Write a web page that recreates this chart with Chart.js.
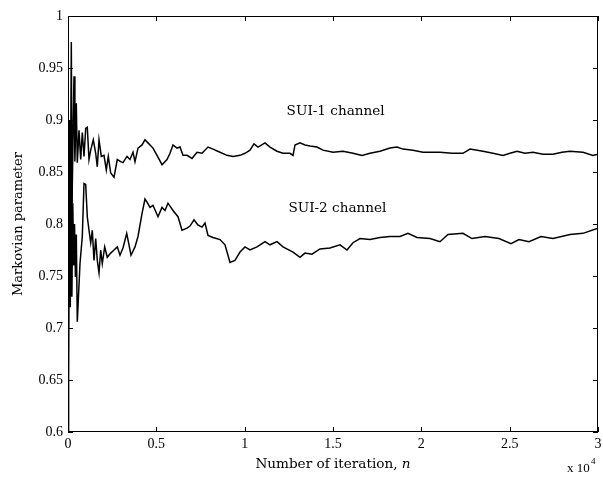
<!DOCTYPE html>
<html>
<head>
<meta charset="utf-8">
<script src="https://cdn.jsdelivr.net/npm/chart.js@4/dist/chart.umd.min.js"></script>
<style>
html,body{margin:0;padding:0;background:#fff;}
#wrap{width:603px;height:477px;}
</style>
</head>
<body>
<div id="wrap"><canvas id="c" width="603" height="477"></canvas></div>
<script>
// ---- data (iteration n, Markovian parameter) ----
const sui1N = [0,30,60,100,150,187,230,290,340,390,430,470,526,623,719,809,906,1002,1092,1189,1285,1432,1568,1658,1755,1885,2038,2168,2281,2417,2604,2790,2983,3113,3340,3509,3679,3792,3962,4189,4358,4528,4811,5038,5321,5604,5774,5943,6170,6340,6509,6736,7019,7302,7585,7925,8208,8604,9000,9340,9736,10019,10302,10528,10755,11151,11434,11830,12170,12566,12736,12849,13132,13415,13698,14094,14434,15000,15566,16132,16642,17094,17660,18226,18623,18962,19528,20094,20491,21055,21736,22357,22753,23489,24055,24621,25019,25413,25868,26319,26887,27451,27962,28413,29149,29715,30000];
const sui1V = [0.880,0.750,0.900,0.800,0.860,0.975,0.820,0.890,0.942,0.860,0.890,0.916,0.859,0.890,0.862,0.888,0.865,0.892,0.893,0.862,0.871,0.881,0.868,0.855,0.881,0.865,0.866,0.852,0.865,0.849,0.845,0.862,0.860,0.859,0.865,0.862,0.869,0.860,0.873,0.876,0.881,0.878,0.873,0.866,0.857,0.862,0.868,0.876,0.873,0.874,0.866,0.866,0.863,0.869,0.868,0.874,0.872,0.869,0.866,0.865,0.866,0.868,0.871,0.877,0.874,0.878,0.874,0.870,0.868,0.868,0.866,0.876,0.878,0.876,0.875,0.874,0.871,0.869,0.870,0.868,0.866,0.868,0.870,0.873,0.874,0.872,0.871,0.869,0.869,0.869,0.868,0.868,0.872,0.870,0.868,0.866,0.868,0.870,0.868,0.869,0.867,0.867,0.869,0.870,0.869,0.866,0.867];

const sui2N = [0,20,50,90,130,170,220,270,320,370,420,470,526,679,809,906,1002,1092,1189,1285,1375,1472,1568,1658,1755,1851,1941,2077,2224,2417,2604,2790,2943,3113,3323,3453,3566,3792,3962,4189,4358,4472,4642,4811,5094,5321,5491,5660,5943,6226,6453,6736,6906,7132,7358,7585,7755,7925,8208,8604,8887,9170,9453,9736,10019,10302,10698,11151,11434,11830,12170,12736,13132,13415,13811,14264,14830,15396,15792,16132,16528,17094,17660,18226,18792,19245,19755,20491,21055,21508,22357,22866,23602,24396,25075,25528,26094,26774,27453,28415,29151,30000];
const sui2V = [0.600,0.800,0.650,0.860,0.720,0.850,0.730,0.820,0.760,0.800,0.749,0.790,0.706,0.762,0.788,0.839,0.838,0.807,0.794,0.782,0.794,0.765,0.786,0.765,0.753,0.775,0.762,0.778,0.768,0.772,0.775,0.778,0.770,0.777,0.791,0.780,0.770,0.778,0.788,0.810,0.824,0.821,0.816,0.818,0.807,0.816,0.813,0.820,0.813,0.807,0.794,0.796,0.798,0.804,0.799,0.797,0.801,0.789,0.787,0.785,0.780,0.763,0.765,0.773,0.778,0.775,0.778,0.783,0.780,0.783,0.778,0.773,0.768,0.772,0.771,0.776,0.777,0.780,0.775,0.782,0.786,0.785,0.787,0.788,0.788,0.791,0.787,0.786,0.783,0.790,0.791,0.786,0.788,0.786,0.781,0.785,0.783,0.788,0.786,0.790,0.791,0.796];

const xTicks = [0,5000,10000,15000,20000,25000,30000];
const xTickLabels = ['0','0.5','1','1.5','2','2.5','3'];
const yTicks = [0.6,0.65,0.7,0.75,0.8,0.85,0.9,0.95,1];
const yTickLabels = ['0.6','0.65','0.7','0.75','0.8','0.85','0.9','0.95','1'];
const annotations = [
  {text:'SUI-1 channel', n:15150, v:0.908},
  {text:'SUI-2 channel', n:15250, v:0.815}
];

const NUMFONT = '"Liberation Serif", serif';
const WORDFONT = '"DejaVu Serif", serif';

function pts(ns, vs){ return ns.map((n,i)=>({x:n, y:vs[i]})); }

const framePlugin = {
  id:'frame',
  afterDraw(chart){
    const {ctx, chartArea:a, scales:{x, y}} = chart;
    ctx.save();
    ctx.strokeStyle = '#000';
    ctx.lineWidth = 1;
    ctx.strokeRect(Math.round(a.left)+0.5, Math.round(a.top)+0.5, Math.round(a.right-a.left)-1, Math.round(a.bottom-a.top)-1);
    const L = 5;
    ctx.beginPath();
    xTicks.forEach(t=>{
      const px = Math.round(x.getPixelForValue(t))+0.5;
      ctx.moveTo(px, a.bottom); ctx.lineTo(px, a.bottom-L);
      ctx.moveTo(px, a.top); ctx.lineTo(px, a.top+L);
    });
    yTicks.forEach(t=>{
      const py = Math.round(y.getPixelForValue(t))+0.5;
      ctx.moveTo(a.left, py); ctx.lineTo(a.left+L, py);
      ctx.moveTo(a.right, py); ctx.lineTo(a.right-L, py);
    });
    ctx.stroke();
    ctx.fillStyle = '#000';
    ctx.font = '14px ' + NUMFONT;
    ctx.textAlign = 'center'; ctx.textBaseline = 'top';
    xTicks.forEach((t,i)=>{
      ctx.fillText(xTickLabels[i], x.getPixelForValue(t), a.bottom+5);
    });
    ctx.textAlign = 'right'; ctx.textBaseline = 'middle';
    yTicks.forEach((t,i)=>{
      ctx.fillText(yTickLabels[i], a.left-5, y.getPixelForValue(t));
    });
    // x title
    ctx.textBaseline = 'middle';
    const FS = '13.6px ';
    const t1 = 'Number of iteration, ';
    ctx.font = FS + WORDFONT;
    const w1 = ctx.measureText(t1).width;
    ctx.font = 'italic ' + FS + WORDFONT;
    const w2 = ctx.measureText('n').width;
    const cx = (a.left+a.right)/2;
    ctx.textAlign = 'left';
    ctx.font = FS + WORDFONT;
    ctx.fillText(t1, cx-(w1+w2)/2, 464);
    ctx.font = 'italic ' + FS + WORDFONT;
    ctx.fillText('n', cx-(w1+w2)/2+w1, 464);
    // exponent
    ctx.font = '13px ' + NUMFONT;
    ctx.textAlign = 'left';
    ctx.fillText('x 10', 567, 469);
    ctx.font = '9px ' + NUMFONT;
    ctx.fillText('4', 591, 462);
    // y title
    ctx.save();
    ctx.translate(19, (a.top+a.bottom)/2);
    ctx.rotate(-Math.PI/2);
    ctx.textAlign = 'center'; ctx.textBaseline = 'middle';
    ctx.font = '13px ' + WORDFONT;
    ctx.fillText('Markovian parameter', 0, 0);
    ctx.restore();
    // annotations
    ctx.font = FS + WORDFONT;
    ctx.textAlign = 'center'; ctx.textBaseline = 'middle';
    annotations.forEach(an=>{
      ctx.fillText(an.text, x.getPixelForValue(an.n), y.getPixelForValue(an.v));
    });
    ctx.restore();
  }
};

new Chart(document.getElementById('c'), {
  type:'line',
  data:{
    datasets:[
      {label:'SUI-1 channel', data:pts(sui1N, sui1V), borderColor:'#000', borderWidth:1.5, pointRadius:0, tension:0, fill:false},
      {label:'SUI-2 channel', data:pts(sui2N, sui2V), borderColor:'#000', borderWidth:1.5, pointRadius:0, tension:0, fill:false}
    ]
  },
  options:{
    responsive:false,
    animation:false,
    events:[],
    layout:{padding:{left:0, right:5, top:16, bottom:0}},
    plugins:{legend:{display:false}, tooltip:{enabled:false}, title:{display:false}},
    scales:{
      x:{type:'linear', min:0, max:30000, display:true,
         grid:{display:false, drawTicks:false}, border:{display:false},
         ticks:{display:false},
         afterFit(s){ s.height = 45; }},
      y:{type:'linear', min:0.6, max:1, display:true,
         grid:{display:false, drawTicks:false}, border:{display:false},
         ticks:{display:false},
         afterFit(s){ s.width = 68; }}
    }
  },
  plugins:[framePlugin]
});
</script>
</body>
</html>
